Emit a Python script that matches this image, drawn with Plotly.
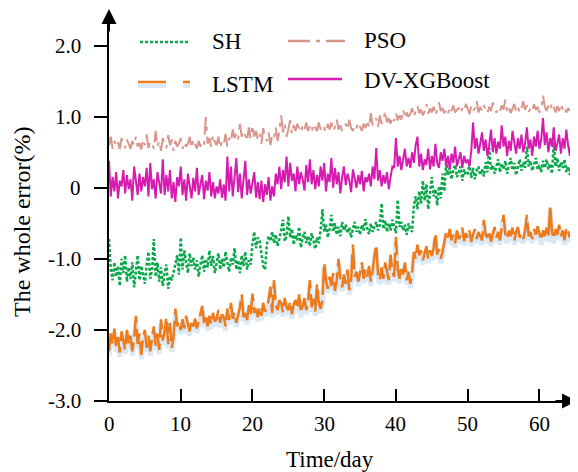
import plotly.graph_objects as go

# time axis: 4 samples per day, day 0 .. 65
days = [i * 0.25 for i in range(261)]

dv_xgboost = [
 0.38,-0.12,0.15,-0.05, 0.22,-0.15,0.10,0.02, 0.25,-0.08,0.18,-0.02, 0.12,-0.18,0.30,0.05,
 -0.10,0.20,-0.05,0.15, 0.02,0.28,-0.12,0.35, -0.02,0.12,-0.15,0.22, 0.05,-0.08,0.40,-0.10,
 0.18,-0.05,0.25,-0.15, 0.08,-0.20,0.15,0.02, 0.30,-0.10,0.12,-0.18, 0.20,0.00,-0.15,0.14,
 -0.05,0.28,-0.10,0.05, 0.18,-0.16,0.10,-0.04, 0.22,-0.12,0.08,-0.15, 0.02,-0.08,0.12,-0.14,
 0.05,-0.18,0.44,-0.05, 0.30,-0.12,0.15,0.42, -0.06,0.20,-0.15,0.10, 0.38,-0.10,0.12,-0.08,
 0.05,0.22,-0.14,0.08, -0.16,0.10,-0.20,0.05, -0.10,0.15,-0.18,0.02, -0.12,0.20,0.05,0.30,
 -0.02,0.25,0.08,0.44, 0.02,0.35,0.10,0.20, -0.05,0.30,0.05,0.22, 0.12,-0.04,0.32,0.08,
 0.40,0.05,0.25,-0.02, 0.18,0.02,0.30,0.10, 0.35,-0.05,0.20,0.08, 0.42,0.00,0.28,0.05,
 0.22,-0.08,0.15,0.30, 0.04,0.20,0.10,-0.06, 0.26,0.12,0.00,0.18, 0.05,0.24,-0.05,0.15,
 0.08,0.20,0.02,0.30, 0.12,0.56,0.10,0.25, 0.02,0.18,0.06,0.22, -0.02,0.15,0.30,0.28,
 0.70,0.30,0.45,0.25, 0.38,0.55,0.30,0.42, 0.28,0.50,0.35,0.60, 0.72,0.30,0.48,0.25,
 0.40,0.32,0.55,0.26, 0.45,0.30,0.62,0.35, 0.28,0.50,0.38,0.55, 0.30,0.45,0.26,0.48,
 0.35,0.58,0.30,0.42, 0.50,0.28,0.45,0.35, 0.40,0.30,0.52,0.92, 0.55,0.70,0.48,0.62,
 0.78,0.52,0.68,0.45, 0.60,0.82,0.50,0.70, 0.48,0.65,0.55,0.88, 0.58,0.72,0.45,0.66,
 0.52,0.80,0.60,0.48, 0.70,0.55,0.75,0.50, 0.62,0.85,0.55,0.68, 0.45,0.72,0.58,0.80,
 0.55,0.68,0.98,0.60, 0.78,0.50,0.70,0.58, 0.85,0.52,0.62,0.75, 0.48,0.70,0.55,0.82,
 0.60,0.45,0.72,0.52, 0.62]

pso = [
 0.60,0.72,0.55,0.66, 0.58,0.64,0.55,0.70, 0.62,0.56,0.68,0.60, 0.55,0.66,0.60,0.72,
 0.58,0.63,0.54,0.68, 0.60,0.75,0.56,0.65, 0.62,0.55,0.80,0.58, 0.66,0.52,0.70,0.62,
 0.56,0.74,0.60,0.68, 0.52,0.66,0.58,0.62, 0.70,0.55,0.64,0.58, 0.62,0.72,0.56,0.68,
 0.60,0.55,0.66,0.58, 0.64,0.60,1.00,0.62, 0.70,0.58,0.74,0.65, 0.60,0.72,0.56,0.66,
 0.62,0.76,0.58,0.70, 0.65,0.82,0.70,0.76, 0.68,0.90,0.72,0.80, 0.74,0.66,0.85,0.70,
 0.88,0.72,0.80,0.68, 0.76,0.62,0.84,0.70, 0.66,0.78,0.60,0.74, 0.70,0.85,0.66,0.80,
 1.02,0.78,0.90,0.72, 0.82,0.95,0.76,0.88, 0.80,0.90,0.84,0.78, 0.88,0.82,0.92,0.80,
 0.86,0.78,0.90,0.84, 0.80,0.92,0.82,0.88, 0.84,0.78,0.90,0.82, 0.92,0.80,0.86,0.96,
 0.82,0.88,0.80,0.86, 0.90,0.82,0.96,0.84, 0.80,0.88,0.84,0.92, 0.86,0.80,0.90,0.84,
 0.95,0.85,1.05,0.88, 0.92,0.98,0.86,1.02, 0.90,0.96,1.08,0.92, 0.98,0.90,1.00,0.94,
 1.05,0.95,1.02,0.96, 1.10,0.98,1.06,1.00, 1.04,1.12,1.00,1.08, 1.15,1.05,1.10,1.02,
 1.08,1.18,1.04,1.12, 1.06,1.14,1.02,1.10, 1.20,1.08,1.12,1.05, 1.10,1.04,1.14,1.08,
 1.16,1.06,1.10,1.12, 1.05,1.12,1.08,1.18, 1.10,1.04,1.15,1.08, 1.12,1.22,1.06,1.14,
 1.08,1.16,1.10,1.05, 1.14,1.08,1.20,1.10, 1.06,1.12,1.08,1.16, 1.10,1.24,1.08,1.14,
 1.05,1.12,1.18,1.08, 1.14,1.06,1.12,1.22, 1.10,1.16,1.06,1.12, 1.08,1.18,1.10,1.14,
 1.06,1.12,1.30,1.14, 1.08,1.16,1.10,1.20, 1.12,1.06,1.15,1.08, 1.18,1.10,1.14,1.06,
 1.12,1.08,1.16,1.10, 1.12]

sh = [
 -0.72,-1.15,-1.30,-1.05, -1.25,-1.10,-1.38,-1.00, -1.20,-0.95,-1.32,-1.12, -1.28,-1.05,-1.40,-1.15,
 -0.95,-1.30,-1.10,-1.22, -1.35,-1.08,-0.90,-1.28, -1.15,-0.72,-1.25,-1.05, -1.32,-1.12,-1.38,-1.20,
 -1.08,-1.42,-1.25,-1.30, -1.18,-1.10,-0.95,-1.22, -0.70,-1.15,-0.88,-1.05, -1.20,-0.92,-1.10,-0.98,
 -1.15,-1.02,-1.25,-1.08, -0.95,-1.18,-1.00,-1.12, -0.88,-1.10,-0.96,-1.20, -1.05,-0.92,-1.15,-1.00,
 -1.12,-0.90,-1.05,-1.18, -0.98,-1.08,-0.85,-1.15, -1.02,-1.20,-0.95,-1.10, -0.90,-1.15,-1.02,-1.08,
 -0.78,-0.62,-0.85,-0.70, -0.75,-0.92,-1.10,-1.15, -0.80,-0.68,-0.75,-0.62, -0.78,-0.66,-0.82,-0.72,
 -0.60,-0.45,-0.75,-0.68, -0.40,-0.70,-0.58,-0.80, -0.66,-0.74,-0.55,-0.84, -0.70,-0.62,-0.78,-0.68,
 -0.82,-0.64,-0.74,-0.86, -0.70,-0.78,-0.60,-0.30, -0.62,-0.52,-0.70,-0.58, -0.38,-0.62,-0.50,-0.66,
 -0.55,-0.68,-0.48,-0.60, -0.52,-0.64,-0.56,-0.70, -0.58,-0.48,-0.62,-0.55, -0.66,-0.52,-0.60,-0.44,
 -0.58,-0.65,-0.50,-0.62, -0.55,-0.48,-0.60,-0.52, -0.22,-0.58,-0.46,-0.62, -0.50,-0.60,-0.45,-0.55,
 -0.64,-0.17,-0.55,-0.48, -0.60,-0.52,-0.66,-0.50, -0.58,-0.62,-0.25,-0.12, -0.30,-0.05,-0.22,0.10,
 -0.18,0.05,-0.30,-0.08, 0.15,-0.12,-0.02,-0.25, 0.02,-0.15,0.20,-0.05, 0.35,0.18,0.28,0.12,
 0.25,0.32,0.15,0.22, 0.30,0.10,0.26,0.18, 0.20,0.34,0.14,0.28, 0.12,0.24,0.30,0.18,
 0.26,0.16,0.36,0.22, 0.56,0.25,0.32,0.20, 0.30,0.40,0.22,0.34, 0.26,0.38,0.20,0.30,
 0.42,0.25,0.35,0.18, 0.30,0.40,0.24,0.36, 0.28,0.58,0.30,0.38, 0.24,0.35,0.42,0.26,
 0.32,0.22,0.38,0.28, 0.40,0.26,0.34,0.20, 0.64,0.30,0.42,0.24, 0.36,0.28,0.40,0.22,
 0.30,0.18,0.34,0.26, 0.22]

lstm = [
 -2.30,-2.05,-2.20,-1.98, -2.25,-2.10,-2.32,-2.02, -2.15,-2.28,-2.00,-2.20, -2.08,-2.30,-2.12,-1.80,
 -2.20,-2.05,-2.35,-2.10, -2.00,-2.25,-2.08,-2.30, -2.12,-1.95,-2.22,-2.05, -2.28,-1.85,-2.15,-2.02,
 -1.82,-2.20,-1.90,-2.25, -2.10,-1.70,-1.95,-1.88, -2.00,-1.85,-1.98,-1.80, -1.92,-2.02,-1.86,-1.95,
 -1.84,-1.98,-1.88,-1.76, -1.66,-1.90,-1.82,-1.95, -1.80,-1.92,-1.76,-1.88, -1.85,-1.72,-1.90,-1.78,
 -1.82,-1.95,-1.70,-1.86, -1.62,-1.84,-1.75,-1.90, -1.78,-1.68,-1.50,-1.82, -1.72,-1.86,-1.65,-1.80,
 -1.49,-1.76,-1.70,-1.82, -1.68,-1.80,-1.62,-1.74, -1.70,-1.58,-1.39,-1.76, -1.30,-1.66,-1.72,-1.58,
 -1.62,-1.75,-1.55,-1.68, -1.72,-1.60,-1.78,-1.64, -1.58,-1.70,-1.50,-1.76, -1.66,-1.55,-1.72,-1.60,
 -1.30,-1.68,-1.56,-1.74, -1.35,-1.62,-1.70,-1.58, -1.05,-1.30,-1.42,-1.25, -1.38,-1.20,-1.45,-1.30,
 -1.00,-1.28,-1.40,-1.22, -1.35,-1.15,-1.44,-1.30, -0.80,-1.25,-1.18,-1.32, -1.20,-1.05,-1.28,-1.15,
 -1.25,-1.10,-1.32,-1.18, -0.95,-0.80,-1.22,-1.30, -1.12,-1.28,-1.05,-1.20, -1.30,-0.94,-1.18,-1.25,
 -0.69,-1.15,-1.28,-1.10, -1.22,-1.05,-1.30,-1.18, -1.35,-1.20,-0.90,-1.00, -0.80,-0.95,-0.88,-1.02,
 -0.92,-0.82,-1.00,-0.88, -0.96,-0.85,-0.64,-0.94, -0.86,-1.00,-0.90,-0.78, -0.62,-0.70,-0.58,-0.74,
 -0.66,-0.78,-0.60,-0.72, -0.68,-0.56,-0.75,-0.64, -0.70,-0.60,-0.76,-0.66, -0.58,-0.72,-0.62,-0.68,
 -0.74,-0.45,-0.66,-0.70, -0.60,-0.76,-0.64,-0.55, -0.70,-0.62,-0.74,-0.58, -0.38,-0.66,-0.72,-0.60,
 -0.68,-0.56,-0.74,-0.62, -0.55,-0.70,-0.64,-0.72, -0.60,-0.38,-0.68,-0.62, -0.72,-0.58,-0.66,-0.54,
 -0.64,-0.74,-0.60,-0.68, -0.56,-0.70,-0.24,-0.62, -0.72,-0.58,-0.66,-0.52, -0.68,-0.60,-0.74,-0.56,
 -0.62,-0.70,-0.55,-0.66, -0.60]

y_ticks = [-3, -2, -1, 0, 1, 2]
y_tick_text = ["-3.0", "-2.0", "-1.0", "0", "1.0", "2.0"]
x_ticks = [0, 10, 20, 30, 40, 50, 60]
x_tick_text = ["0", "10", "20", "30", "40", "50", "60"]

colors = {"SH": "#0aa84a", "PSO": "#d9968c", "LSTM": "#ef7a1a", "DV-XGBoost": "#d61cb0"}
SHADOW = "rgba(190,215,238,0.55)"
FONT = "Liberation Serif"

fig = go.Figure()
# soft shadow under the LSTM curve
fig.add_trace(go.Scatter(x=days, y=[v - 0.06 for v in lstm], mode="lines",
                         line=dict(color=SHADOW, width=5), hoverinfo="skip", showlegend=False))
fig.add_trace(go.Scatter(x=days, y=lstm, mode="lines", name="LSTM",
                         line=dict(color=colors["LSTM"], width=2.5, dash="28px,6px"), showlegend=False))
fig.add_trace(go.Scatter(x=days, y=sh, mode="lines", name="SH",
                         line=dict(color=colors["SH"], width=2.5, dash="3px,2px"), showlegend=False))
fig.add_trace(go.Scatter(x=days, y=pso, mode="lines", name="PSO",
                         line=dict(color=colors["PSO"], width=2, dash="22px,6px,4px,6px"), showlegend=False))
fig.add_trace(go.Scatter(x=days, y=dv_xgboost, mode="lines", name="DV-XGBoost",
                         line=dict(color=colors["DV-XGBoost"], width=2), showlegend=False))

# page has an 8px body margin; work in page pixel coords
OFF = 8
PAGE_W, PAGE_H = 578, 472
W, H = PAGE_W - OFF, PAGE_H - OFF
PL, PR, PT, PB = 109, 576, 13, 401   # plot area in page pixels
L, T = PL - OFF, PT - OFF
R, B = W - (PR - OFF), H - (PB - OFF)
pw, ph = PR - PL, PB - PT

def px(xp):
    return (xp - PL) / pw

def py(yp):
    return (PB - yp) / ph

shapes = []
annotations = []
legend_items = [
    ("SH", 140, 190, 42, 210, 42, "3px,2px"),
    ("PSO", 288, 345, 41, 362, 41, "22px,6px,4px,6px"),
    ("LSTM", 138, 190, 82, 210, 84, "28px,17px"),
    ("DV-XGBoost", 288, 342, 79, 362, 80, "solid"),
]
for name, x0, x1, yl, xt, yt, dsh in legend_items:
    if name == "LSTM":
        shapes.append(dict(type="line", xref="paper", yref="paper", x0=px(x0), x1=px(x1),
                           y0=py(yl + 4), y1=py(yl + 4), line=dict(color=SHADOW, width=4, dash=dsh)))
    shapes.append(dict(type="line", xref="paper", yref="paper", x0=px(x0), x1=px(x1),
                       y0=py(yl), y1=py(yl), line=dict(color=colors[name], width=2.5, dash=dsh)))
    annotations.append(dict(text=name, xref="paper", yref="paper", x=px(xt), y=py(yt),
                            xanchor="left", yanchor="middle", showarrow=False,
                            font=dict(family=FONT, size=23, color="black")))

# tick labels (serif) placed at the axis ticks
for v, t in zip(y_ticks, y_tick_text):
    annotations.append(dict(text=t, xref="paper", yref="y", x=px(83), y=v, xanchor="right",
                            yanchor="middle", showarrow=False,
                            font=dict(family=FONT, size=21, color="black")))
for v, t in zip(x_ticks, x_tick_text):
    annotations.append(dict(text=t, xref="x", yref="paper", x=v, y=py(424), xanchor="center",
                            yanchor="middle", showarrow=False,
                            font=dict(family=FONT, size=21, color="black")))

# axis arrows
annotations.append(dict(text="", xref="paper", yref="paper", x=0, y=py(9), ax=0, ay=24,
                        showarrow=True, arrowhead=2, arrowsize=1.5, arrowwidth=2, arrowcolor="black"))
annotations.append(dict(text="", xref="paper", yref="paper", x=px(578), y=0, ax=-24, ay=0,
                        showarrow=True, arrowhead=2, arrowsize=1.5, arrowwidth=2, arrowcolor="black"))
# axis titles
annotations.append(dict(text="The whole error(%)", xref="paper", yref="paper", x=px(22), y=py(222),
                        textangle=-90, showarrow=False, xanchor="center", yanchor="middle",
                        font=dict(family=FONT, size=24, color="black")))
annotations.append(dict(text="Time/day", xref="paper", yref="paper", x=px(330), y=py(460),
                        showarrow=False, xanchor="center", yanchor="middle",
                        font=dict(family=FONT, size=23, color="black")))

fig.update_layout(
    template="none",
    width=W, height=H, margin=dict(l=L, r=R, t=T, b=B),
    paper_bgcolor="white", plot_bgcolor="white",
    shapes=shapes, annotations=annotations, showlegend=False,
    font=dict(family=FONT, size=21, color="black"),
)
fig.update_xaxes(range=[0, 65.1], showgrid=False, zeroline=False, showline=True, linecolor="black",
                 linewidth=2, ticks="inside", ticklen=12, tickwidth=2, tickcolor="black",
                 tickvals=x_ticks, showticklabels=False)
fig.update_yaxes(range=[-3, 2.46], showgrid=False, zeroline=False, showline=True, linecolor="black",
                 linewidth=2, ticks="outside", ticklen=13, tickwidth=2, tickcolor="black",
                 tickvals=y_ticks, showticklabels=False)

fig.write_html("out.html")
